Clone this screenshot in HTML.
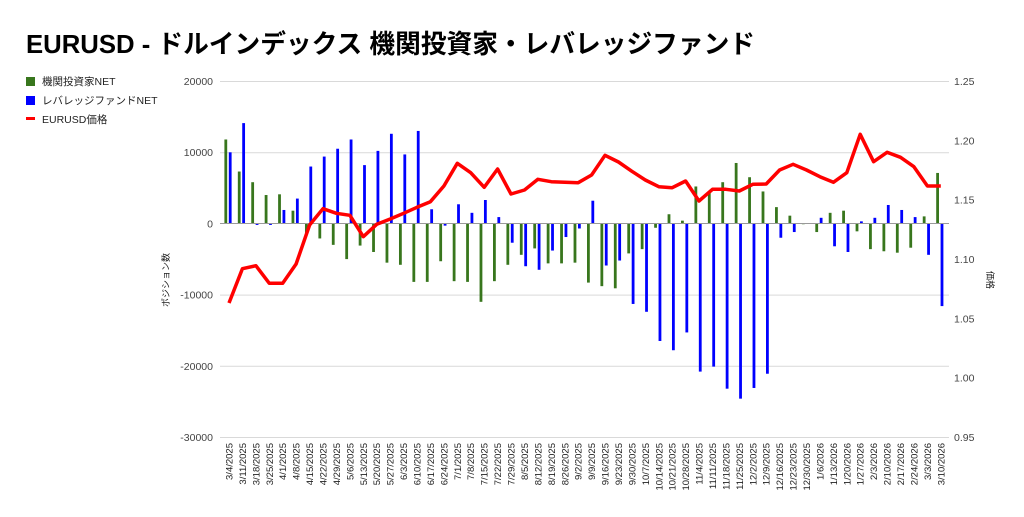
<!DOCTYPE html>
<html><head><meta charset="utf-8">
<style>
html,body{margin:0;padding:0;background:#fff;}
svg{display:block;font-family:"Liberation Sans","Noto Sans CJK JP",sans-serif;}
</style></head>
<body>
<svg id="c" width="1024" height="517" viewBox="0 0 1024 517" xmlns="http://www.w3.org/2000/svg">
<rect width="1024" height="517" fill="#fff"/>
<text x="26" y="53" font-size="26" font-weight="bold" fill="#000" textLength="729" lengthAdjust="spacingAndGlyphs">EURUSD - ドルインデックス 機関投資家・レバレッジファンド</text>
<rect x="26" y="77" width="9" height="9" fill="#38761d"/>
<text x="42" y="85" font-size="10.5" fill="#222">機関投資家NET</text>
<rect x="26" y="96" width="9" height="9" fill="#0000ff"/>
<text x="42" y="104" font-size="10.5" fill="#222">レバレッジファンドNET</text>
<rect x="26" y="117" width="9" height="3" fill="#ff0000"/>
<text x="42" y="123" font-size="10.5" fill="#222">EURUSD価格</text>
<g id="grid" stroke="#d9d9d9" stroke-width="1"></g>
<g id="ticks" font-size="10.5" fill="#444"></g>
<text transform="translate(169,280) rotate(-90)" font-size="9" fill="#222" text-anchor="middle">ポジション数</text>
<text transform="translate(987,280) rotate(90)" font-size="9" fill="#222" text-anchor="middle">価格</text>
<g id="bars"></g>
<line x1="220" y1="223.5" x2="949" y2="223.5" stroke="#999" stroke-width="1"/>
<polyline id="line" fill="none" stroke="#ff0000" stroke-width="3.5" stroke-linejoin="round"/>
<g id="xl" font-size="9.5" fill="#222"></g>
</svg>
<script>
var NS="http://www.w3.org/2000/svg";
function el(t,a,p,txt){var e=document.createElementNS(NS,t);for(var k in a)e.setAttribute(k,a[k]);if(txt)e.textContent=txt;document.getElementById(p).appendChild(e);return e;}
var lv=[20000,10000,0,-10000,-20000,-30000],rv=["1.25","1.20","1.15","1.10","1.05","1.00","0.95"];
for(var i=0;i<6;i++){var y=81+i*71.2;if(i!=2)el("line",{x1:220,x2:949,y1:y+0.5,y2:y+0.5},"grid");el("text",{x:213,y:y+4,"text-anchor":"end"},"ticks",String(lv[i]));}
for(var i=0;i<7;i++){var y=81+i*59.33;el("text",{x:954,y:y+4},"ticks",rv[i]);}
var g=[11.8,7.3,5.8,4.0,4.1,1.8,-1.5,-2.1,-3.0,-5.0,-3.1,-4.0,-5.5,-5.8,-8.2,-8.2,-5.3,-8.1,-8.2,-11.0,-8.1,-5.8,-4.4,-3.5,-5.6,-5.6,-5.5,-8.3,-8.8,-9.1,-4.2,-3.6,-0.6,1.3,0.4,5.2,4.3,5.8,8.5,6.5,4.5,2.3,1.1,-0.1,-1.2,1.5,1.8,-1.1,-3.6,-3.9,-4.1,-3.4,1.0,7.1];
var b=[10.0,14.1,-0.2,-0.2,1.9,3.5,8.0,9.4,10.5,11.8,8.2,10.2,12.6,9.7,13.0,2.0,-0.3,2.7,1.5,3.3,0.9,-2.7,-6.0,-6.5,-3.8,-1.9,-0.7,3.2,-5.9,-5.2,-11.3,-12.4,-16.5,-17.8,-15.3,-20.8,-20.1,-23.2,-24.6,-23.1,-21.1,-2.0,-1.2,0,0.8,-3.2,-4.0,0.3,0.8,2.6,1.9,0.9,-4.4,-11.6];
var r=[303,268.7,265.7,283.3,283.3,264,225,208.7,213.3,215.3,236.7,224.3,219,213.3,207.3,201.7,186,163.3,172.7,187.3,169,194,190,179.3,181.7,182.3,182.7,175,155.3,162,171.3,180,186.7,187.7,181,201,189.3,189.3,191,184.3,184,170,164.3,170,176.7,182.3,172.7,134.3,161.7,152.3,157.3,166.7,186,186];
var d=["3/4/2025","3/11/2025","3/18/2025","3/25/2025","4/1/2025","4/8/2025","4/15/2025","4/22/2025","4/29/2025","5/6/2025","5/13/2025","5/20/2025","5/27/2025","6/3/2025","6/10/2025","6/17/2025","6/24/2025","7/1/2025","7/8/2025","7/15/2025","7/22/2025","7/29/2025","8/5/2025","8/12/2025","8/19/2025","8/26/2025","9/2/2025","9/9/2025","9/16/2025","9/23/2025","9/30/2025","10/7/2025","10/14/2025","10/21/2025","10/28/2025","11/4/2025","11/11/2025","11/18/2025","11/25/2025","12/2/2025","12/9/2025","12/16/2025","12/23/2025","12/30/2025","1/6/2026","1/13/2026","1/20/2026","1/27/2026","2/3/2026","2/10/2026","2/17/2026","2/24/2026","3/3/2026","3/10/2026"];
var Z=223.5,S=7.12,pts=[];
for(var i=0;i<54;i++){var c=229+13.43*i;
 function bar(v,x,col){var h=Math.abs(v)*S;if(h<0.5)return;el("rect",{x:x,y:v>0?Z-h:Z,width:2.8,height:h,fill:col},"bars");}
 bar(g[i],c-4.6,"#38761d");bar(b[i],c-0.2,"#0000ff");
 pts.push(c.toFixed(1)+","+r[i]);
 el("text",{transform:"translate("+(c+3.5).toFixed(1)+",443) rotate(-90)","text-anchor":"end"},"xl",d[i]);}
document.getElementById("line").setAttribute("points",pts.join(" "));
</script>
</body></html>
